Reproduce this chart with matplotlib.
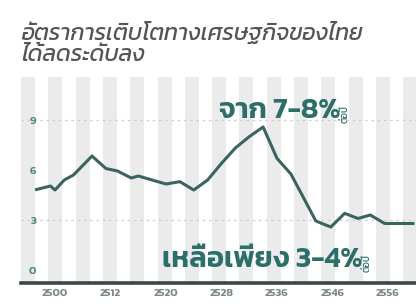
import numpy as np
import matplotlib
matplotlib.use("Agg")
import matplotlib.pyplot as plt
from matplotlib.patches import Rectangle

# Thai GDP growth (smoothed)
years = [2496, 2499, 2500, 2502, 2504, 2508, 2511, 2513, 2515, 2516, 2518, 2520,
         2522, 2524, 2526, 2528, 2530, 2532, 2534, 2536, 2538.5, 2541, 2543,
         2545.7, 2548.2, 2550.6, 2552.8, 2555.4, 2560.5]
growth = [4.83, 5.04, 4.80, 5.40, 5.70, 6.84, 6.09, 5.94, 5.52, 5.64, 5.40, 5.16,
          5.30, 4.80, 5.40, 6.40, 7.32, 8.00, 8.58, 6.70, 5.76, 4.20, 2.94,
          2.58, 3.40, 3.09, 3.30, 2.79, 2.79]

xtick_years = [2500, 2512, 2520, 2528, 2536, 2546, 2556]
ytick_vals = [0, 3, 6, 9]

title = "อัตราการเติบโตทางเศรษฐกิจของไทย\nได้ลดระดับลง"
note_top = "จาก 7-8%"
note_bottom = "เหลือเพียง 3-4%"
per_year = "ต่อปี"

TEAL = "#2c6f69"
LINE = "#3b6460"

# the year axis is not linear: labelled years sit evenly apart
anchor_years = [2488] + xtick_years + [2566]
anchor_pos = list(range(-1, len(xtick_years) + 1))

def fwd(x):
    return np.interp(x, anchor_years, anchor_pos)

def inv(p):
    return np.interp(p, anchor_pos, anchor_years)

fig = plt.figure(figsize=(4.16, 3.04), dpi=100)
ax = fig.add_axes([21 / 416, 1 - 283 / 304, 395 / 416, 206 / 304])
ax.set_xscale("function", functions=(fwd, inv))
ax.set_xlim(inv(-0.613), inv(6.505))
ax.set_ylim(-0.78, 11.58)

# background stripes
for i in range(15):
    x0 = (27.3 * i) / 395
    ax.add_patch(Rectangle((x0, 0), 14 / 395, 1, transform=ax.transAxes,
                           facecolor="#ebebec", edgecolor="none", zorder=0))

for v in (3, 9):
    ax.axhline(v, color="#cfcfcf", lw=0.9, ls=(0, (2, 3)), zorder=1)

ax.plot(years, growth, color=LINE, lw=2.2, solid_joinstyle="round", zorder=3)

for s in ("top", "right", "left"):
    ax.spines[s].set_visible(False)
ax.spines["bottom"].set_color("#3d4747")
ax.spines["bottom"].set_linewidth(2.6)

ax.set_xticks(xtick_years)
ax.set_xticklabels([str(y) for y in xtick_years])
ax.xaxis.set_minor_locator(matplotlib.ticker.NullLocator())
ax.tick_params(axis="x", length=0, pad=4, labelsize=8, labelcolor="#7a8887")
ax.set_yticks(ytick_vals)
ax.set_yticklabels([str(v) for v in ytick_vals])
ax.tick_params(axis="y", length=0, pad=-11, labelsize=8, labelcolor="#4f8a84")
for lab in ax.get_xticklabels() + ax.get_yticklabels():
    lab.set_family("Kanit")
    lab.set_weight("semibold")

fig.text(21 / 416, 1 - 21 / 304, title, ha="left", va="top", family="Kanit",
         style="italic", weight="normal", fontsize=16.5, color="#555555",
         linespacing=1.12)

t1 = ax.text((219 - 21) / 395, (283 - 118) / 206, note_top, transform=ax.transAxes,
             ha="left", va="baseline", family="Kanit", weight="semibold",
             fontsize=21, color=TEAL, zorder=5)
t2 = ax.text((162 - 21) / 395, (283 - 267) / 206, note_bottom, transform=ax.transAxes,
             ha="left", va="baseline", family="Kanit", weight="semibold",
             fontsize=21, color=TEAL, zorder=5)

# small vertical "per year" right after each note
fig.canvas.draw()
inv_ax = ax.transAxes.inverted()
for t in (t1, t2):
    bb = t.get_window_extent()
    x_ax, _ = inv_ax.transform((bb.x1 + 5, 0))
    _, y_ax = inv_ax.transform((0, bb.y0 + 0.4 * bb.height))
    ax.text(x_ax, y_ax, per_year, transform=ax.transAxes, ha="center",
            va="center", rotation=90, family="Kanit", fontsize=7,
            color=TEAL, zorder=5)

fig.savefig("out.png", dpi=100)
